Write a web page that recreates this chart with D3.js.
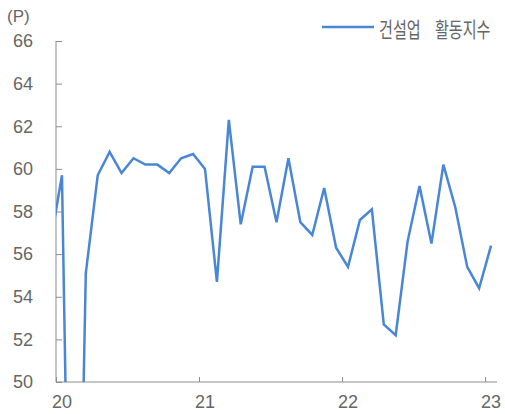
<!DOCTYPE html>
<html>
<head>
<meta charset="utf-8">
<script src="https://cdn.jsdelivr.net/npm/d3@7"></script>
<style>
    body { margin: 0; background: #fff; }
    svg text { font-family: "Liberation Sans", Arial, sans-serif; fill: #666; }
    svg text.kr { font-family: "Noto Sans CJK KR", sans-serif; }
</style>
</head>
<body>
<div id="chart"></div>
<script>

    // Monthly data, Dec 2019 .. Jan 2023
    var months = ["2019-12",
        "2020-01", "2020-02", "2020-03", "2020-04", "2020-05", "2020-06",
        "2020-07", "2020-08", "2020-09", "2020-10", "2020-11", "2020-12",
        "2021-01", "2021-02", "2021-03", "2021-04", "2021-05", "2021-06",
        "2021-07", "2021-08", "2021-09", "2021-10", "2021-11", "2021-12",
        "2022-01", "2022-02", "2022-03", "2022-04", "2022-05", "2022-06",
        "2022-07", "2022-08", "2022-09", "2022-10", "2022-11", "2022-12",
        "2023-01"];
    var values = [56.4,
        59.7, 26.6, 55.1, 59.7, 60.8, 59.8,
        60.5, 60.2, 60.2, 59.8, 60.5, 60.7,
        60.0, 54.7, 62.3, 57.4, 60.1, 60.1,
        57.5, 60.5, 57.5, 56.9, 59.1, 56.3,
        55.4, 57.6, 58.1, 52.7, 52.2, 56.6,
        59.2, 56.5, 60.2, 58.2, 55.4, 54.4,
        56.4];
    var yTicks = [50, 52, 54, 56, 58, 60, 62, 64, 66];
    var xTickLabels = ["20", "21", "22", "23"];
    var seriesName = "건설업 활동지수";

    var width = 505;
    var height = 414;
    var margin = {left: 56, right: 8, top: 41, bottom: 32};

    var svg = d3.select("#chart").append("svg")
        .attr("width", width)
        .attr("height", height);

    // month index counted from Jan 2020
    function monthIndex(s) {
        var p = s.split("-");
        return (+p[0] - 2020) * 12 + (+p[1] - 1);
    }

    var x = d3.scaleLinear()
        .domain([0, 37])
        .range([margin.left, width - margin.right]);

    var y = d3.scaleLinear()
        .domain([50, 66])
        .range([height - margin.bottom, margin.top]);

    var axisColor = "#8c8c8c";
    var lineColor = "#4a86d6";

    // clip
    svg.append("clipPath")
        .attr("id", "plot-clip")
        .append("rect")
        .attr("x", x(0))
        .attr("y", y(66) - 10)
        .attr("width", x(37) - x(0))
        .attr("height", y(50) - y(66) + 10);

    // Y axis
    var yAxis = svg.append("g")
        .attr("transform", "translate(" + x(0) + ",0)")
        .call(d3.axisRight(y).tickValues(yTicks).tickSize(6).tickFormat(""));
    yAxis.select(".domain").attr("stroke", axisColor).attr("d", "M0," + y(66) + "V" + y(50));
    yAxis.selectAll(".tick line").attr("stroke", axisColor);

    svg.selectAll(".ylab")
        .data(yTicks)
        .enter().append("text")
        .attr("class", "ylab")
        .attr("x", 33)
        .attr("y", function(d) { return y(d); })
        .attr("dy", "0.35em")
        .attr("text-anchor", "end")
        .attr("font-size", 18)
        .text(function(d) { return d; });

    svg.append("text")
        .attr("x", 7)
        .attr("y", 22)
        .attr("font-size", 17)
        .text("(P)");

    // X axis
    var xTicks = xTickLabels.map(function(d, i) { return i * 12; });
    var xAxis = svg.append("g")
        .attr("transform", "translate(0," + y(50) + ")")
        .call(d3.axisTop(x).tickValues(xTicks).tickSize(5).tickFormat(""));
    xAxis.select(".domain").attr("stroke", axisColor).attr("d", "M" + x(0) + ",0H" + x(37));
    xAxis.selectAll(".tick line").attr("stroke", axisColor);

    svg.selectAll(".xlab")
        .data(xTickLabels)
        .enter().append("text")
        .attr("class", "xlab")
        .attr("x", function(d, i) { return x(i * 12 + 0.5); })
        .attr("y", y(50) + 26)
        .attr("text-anchor", "middle")
        .attr("font-size", 18)
        .text(function(d) { return d; });

    // Line
    var line = d3.line()
        .x(function(d, i) { return x(monthIndex(months[i]) + 0.5); })
        .y(function(d) { return y(d); });

    svg.append("path")
        .datum(values)
        .attr("clip-path", "url(#plot-clip)")
        .attr("fill", "none")
        .attr("stroke", lineColor)
        .attr("stroke-width", 2.5)
        .attr("stroke-linejoin", "miter")
        .attr("d", line);

    // Legend
    var legend = svg.append("g").attr("transform", "translate(322,27)");
    legend.append("line")
        .attr("x1", 0).attr("x2", 52)
        .attr("stroke", lineColor)
        .attr("stroke-width", 2.5);

    // korean font is wider than the original, squeeze it a bit
    legend.append("text")
        .attr("class", "kr")
        .attr("transform", "translate(57,2) scale(0.72,1)")
        .attr("dy", "0.36em")
        .attr("font-size", 21)
        .attr("word-spacing", 15)
        .text(seriesName);

</script>
</body>
</html>
